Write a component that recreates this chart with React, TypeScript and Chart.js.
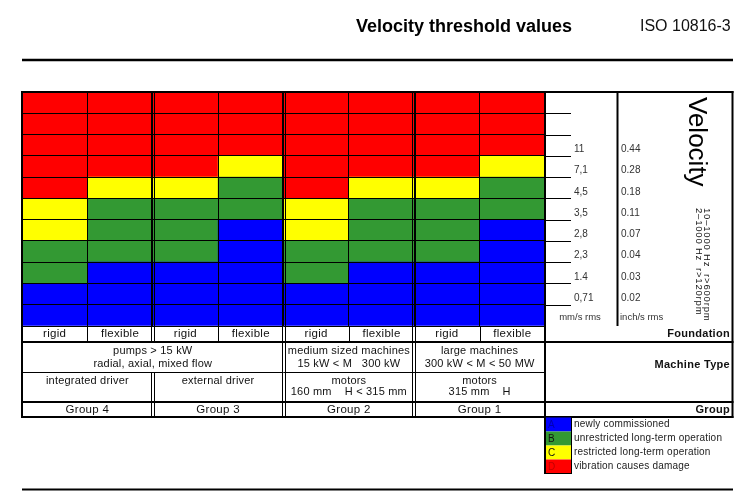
import React, { useEffect, useRef } from 'react';
import { Chart, registerables } from 'chart.js';

Chart.register(...registerables);

// ---- data ----
const foundations = ['rigid', 'flexible', 'rigid', 'flexible', 'rigid', 'flexible', 'rigid', 'flexible'];
const groups = ['Group 4', 'Group 3', 'Group 2', 'Group 1'];
const zoneCodes = ['A', 'B', 'C', 'D'];
const zoneLabels = ['newly commissioned', 'unrestricted long-term operation', 'restricted long-term operation', 'vibration causes damage'];
const zoneColors = ['#0000FF', '#339933', '#FFFF00', '#FF0000'];
// number of velocity bands per zone (bottom to top) for each column
const zoneA = [2, 3, 3, 5, 2, 3, 3, 5];
const zoneB = [2, 3, 3, 2, 2, 3, 3, 2];
const zoneC = [2, 1, 1, 1, 2, 1, 1, 1];
const zoneD = [5, 4, 4, 3, 5, 4, 4, 3];
const bandCount = 11;
const mmLabels = ['0,71', '1.4', '2,3', '2,8', '3,5', '4,5', '7,1', '11'];
const inchLabels = ['0.02', '0.03', '0.04', '0.07', '0.11', '0.18', '0.28', '0.44'];
const machineTypes = [
  ['pumps > 15 kW', 'radial, axial, mixed flow'],
  ['medium sized machines', '15 kW < M   300 kW'],
  ['large machines', '300 kW < M < 50 MW'],
];
const machineSpans = [[0, 4], [4, 6], [6, 8]];
const drivers = [['integrated driver'], ['external driver'], ['motors', '160 mm    H < 315 mm'], ['motors', '315 mm    H']];
const titleText = 'Velocity threshold values';
const standardText = 'ISO 10816-3';
const axisTitle = 'Velocity';
const rangeLines = ['10\u20131000 Hz  r>600rpm', '2\u20131000 Hz  r>120rpm'];

const FONT = '"Liberation Sans", Arial, sans-serif';

const framePlugin = {
  id: 'framePlugin',
  afterDraw(chart: any) {
    const ctx: CanvasRenderingContext2D = chart.ctx;
    const xs = chart.scales.x;
    const ys = chart.scales.y;
    const { left: L, right: R, top: T, bottom: B } = chart.chartArea;
    const half = (xs.getPixelForValue(1) - xs.getPixelForValue(0)) / 2;
    const edge = (i: number) => (i < foundations.length ? xs.getPixelForValue(i) - half : xs.getPixelForValue(i - 1) + half);
    const center = (a: number, b: number) => (edge(a) + edge(b)) / 2;

    const MM_R = 617.5;
    const TR = 732.5;
    const yFoundBottom = 342;
    const yMachineBottom = 372.5;
    const yDriverBottom = 402;
    const yTableBottom = 417;

    const line = (x1: number, y1: number, x2: number, y2: number, w = 1, c = '#000') => {
      ctx.save();
      ctx.strokeStyle = c;
      ctx.lineWidth = w;
      ctx.beginPath();
      ctx.moveTo(x1, y1);
      ctx.lineTo(x2, y2);
      ctx.stroke();
      ctx.restore();
    };
    const text = (s: string, x: number, y: number, font: string, align: CanvasTextAlign = 'center', color = '#111', spacing = '0px') => {
      ctx.save();
      ctx.font = font;
      (ctx as any).letterSpacing = spacing;
      ctx.fillStyle = color;
      ctx.textAlign = align;
      ctx.textBaseline = 'middle';
      ctx.fillText(s, x, y);
      ctx.restore();
    };

    // title and rules
    text(titleText, 356, 27, `bold 18px ${FONT}`, 'left', '#000');
    text(standardText, 640, 27, `16px ${FONT}`, 'left', '#111');
    line(22, 60, 733, 60, 2.5);
    line(22, 489.5, 733, 489.5, 2);

    // outer frame
    line(21, T, TR + 1, T, 2);
    line(22, T - 1, 22, yTableBottom + 1, 2);
    line(TR, T - 1, TR, yTableBottom + 1, 2);
    line(R, T - 1, R, yTableBottom + 1, 2);
    line(MM_R, T - 1, MM_R, B, 2);

    // group separators (double lines)
    for (let g = 1; g < groups.length; g++) {
      const x = Math.round(edge(g * 2));
      const segs: [number, number][] = g === 1 ? [[T, yFoundBottom], [yMachineBottom, yTableBottom]] : [[T, yTableBottom]];
      segs.forEach(([a, b]) => {
        line(x - 1.5, a, x - 1.5, b, 1);
        line(x + 1.5, a, x + 1.5, b, 1);
      });
    }

    // velocity scale lines and labels
    for (let v = 1; v < bandCount; v++) {
      const y = Math.round(ys.getPixelForValue(v)) + 0.5;
      line(R, y, 571, y, 1);
    }
    mmLabels.forEach((s, i) => {
      const y = ys.getPixelForValue(i + 1) - 6.5;
      text(s, 574, y, `10px ${FONT}`, 'left', '#333');
      text(inchLabels[i], 621, y, `10px ${FONT}`, 'left', '#333');
    });
    text('mm/s rms', 580, 317, `9.5px ${FONT}`, 'center', '#333');
    text('inch/s rms', 620, 317, `9.5px ${FONT}`, 'left', '#333');

    // rotated titles
    ctx.save();
    ctx.translate(688.5, 97);
    ctx.rotate(Math.PI / 2);
    ctx.font = `26px ${FONT}`;
    ctx.fillStyle = '#000';
    ctx.textAlign = 'left';
    ctx.textBaseline = 'alphabetic';
    ctx.fillText(axisTitle, 0, 0);
    ctx.restore();
    rangeLines.forEach((s, i) => {
      ctx.save();
      ctx.translate(704 - i * 8, 208);
      ctx.rotate(Math.PI / 2);
      ctx.font = `9.5px ${FONT}`;
      (ctx as any).letterSpacing = '0.8px';
      ctx.fillStyle = '#111';
      ctx.textAlign = 'left';
      ctx.textBaseline = 'alphabetic';
      ctx.fillText(s, 0, 0);
      ctx.restore();
    });

    // lower table lines
    line(L, yFoundBottom, TR + 1, yFoundBottom, 2);
    line(L, yMachineBottom, R, yMachineBottom, 1);
    line(L, yDriverBottom, TR + 1, yDriverBottom, 2);
    line(21, yTableBottom, TR + 1, yTableBottom, 2);
    for (let i = 1; i < foundations.length; i += 2) {
      const x = Math.round(edge(i)) + 0.5;
      line(x, B, x, yFoundBottom, 1);
    }

    const tf = `11.5px ${FONT}`;
    foundations.forEach((f, i) => text(f, xs.getPixelForValue(i), 334, tf, 'center', '#111', '0.3px'));
    machineTypes.forEach((lines, k) => {
      const cx = center(machineSpans[k][0], machineSpans[k][1]);
      lines.forEach((s, j) => text(s, cx, 351 + j * 13, `11px ${FONT}`, 'center', '#111', '0.2px'));
    });
    drivers.forEach((lines, k) => {
      const cx = center(k * 2, k * 2 + 2);
      lines.forEach((s, j) => text(s, cx, 380.5 + j * 11.5, `11px ${FONT}`, 'center', '#111', '0.2px'));
    });
    groups.forEach((g, k) => text(g, center(k * 2, k * 2 + 2), 409.5, tf, 'center', '#111', '0.3px'));

    const bf = `bold 11px ${FONT}`;
    text('Foundation', 730, 334, bf, 'right', '#111', '0.3px');
    text('Machine Type', 730, 364.5, bf, 'right', '#111', '0.3px');
    text('Group', 730, 409.5, bf, 'right', '#111', '0.3px');

    // legend (from datasets)
    const ds = chart.data.datasets;
    const rowTops = [417.5, 431.5, 445.5, 459.5, 473.5];
    ds.forEach((d: any, i: number) => {
      const y0 = rowTops[i];
      const y1 = rowTops[i + 1];
      ctx.fillStyle = d.backgroundColor;
      ctx.fillRect(R, y0, 571 - R, y1 - y0);
      text(d.code, 548, (y0 + y1) / 2 + 0.5, `10px ${FONT}`, 'left', i === 0 ? '#0000b0' : i === 3 ? '#c00000' : '#111');
      text(d.label, 574, (y0 + y1) / 2, `10px ${FONT}`, 'left', '#222', '0.2px');
    });
    line(R, 417, R, 474, 2);
    line(571.5, 417, 571.5, 474, 1);
    line(R - 1, 473.5, 572, 473.5, 1);
  },
};

export default function App() {
  const ref = useRef<HTMLCanvasElement | null>(null);
  useEffect(() => {
    if (!ref.current) return;
    const datasets = [zoneA, zoneB, zoneC, zoneD].map((data, i) => ({
      label: zoneLabels[i],
      code: zoneCodes[i],
      data,
      backgroundColor: zoneColors[i],
      borderWidth: 0,
      barPercentage: 1,
      categoryPercentage: 1,
    }));
    const chart = new Chart(ref.current, {
      type: 'bar',
      data: { labels: foundations, datasets: datasets as any },
      options: {
        responsive: false,
        animation: false,
        devicePixelRatio: 1,
        layout: { padding: { left: 22, top: 92, right: 199, bottom: 176 } },
        scales: {
          x: {
            stacked: true,
            grid: { color: '#000', lineWidth: 1, drawTicks: false, offset: true, z: 1 },
            border: { display: false },
            ticks: { display: false },
            afterFit: (s: any) => { s.height = 0; },
          },
          y: {
            stacked: true,
            min: 0,
            max: bandCount,
            grid: { color: '#000', lineWidth: 1, drawTicks: false, z: 1 },
            border: { display: false },
            ticks: { display: false, stepSize: 1 },
            afterFit: (s: any) => { s.width = 0; },
          },
        },
        plugins: { legend: { display: false }, tooltip: { enabled: false }, title: { display: false } },
      } as any,
      plugins: [framePlugin],
    });
    return () => chart.destroy();
  }, []);
  return (
    <div style={{ position: 'absolute', left: 0, top: 0, width: 744, height: 502, background: '#fff' }}>
      <canvas ref={ref} width={744} height={502} style={{ display: 'block', width: 744, height: 502 }} />
    </div>
  );
}
